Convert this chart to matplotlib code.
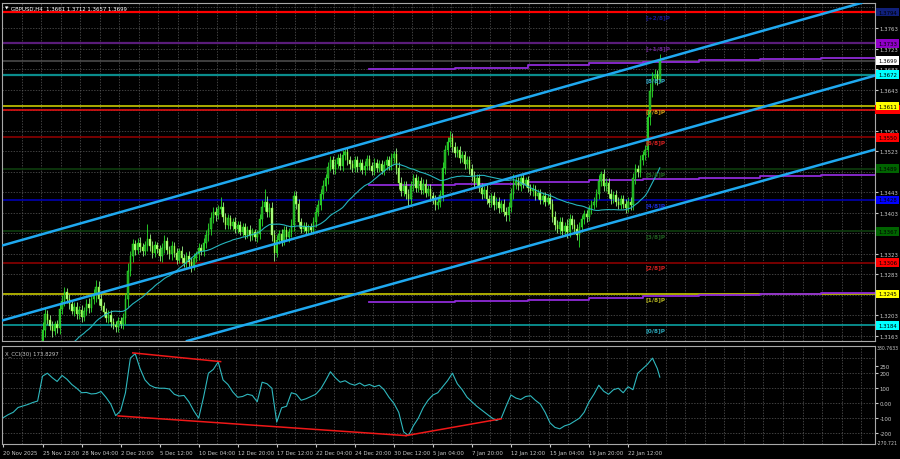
import matplotlib
matplotlib.use("Agg")
import matplotlib.pyplot as plt
import matplotlib.transforms as mtransforms
from matplotlib.patches import Rectangle
import numpy as np
import pandas as pd

plt.rcParams['font.family'] = ['DejaVu Sans']

# ---- data ----
symbol = "GBPUSD,H4"
last_ohlc = "1.3661 1.3712 1.3657 1.3699"
first_open = 1.3070

closes = [
    1.3078, 1.3065, 1.3088, 1.3104, 1.3092, 1.3112, 1.3098, 1.3084, 1.3096, 1.3110,
    1.3124, 1.3108, 1.3120, 1.3132, 1.3124, 1.3140, 1.3175, 1.3205, 1.3195, 1.3182,
    1.3172, 1.3186, 1.3178, 1.3215, 1.3232, 1.3248, 1.3236, 1.3225, 1.3212, 1.3220,
    1.3205, 1.3214, 1.3200, 1.3212, 1.3226, 1.3218, 1.3235, 1.3244, 1.3258, 1.3236,
    1.3222, 1.3210, 1.3198, 1.3204, 1.3190, 1.3185, 1.3180, 1.3192, 1.3186, 1.3198,
    1.3235, 1.3290, 1.3318, 1.3342, 1.3330, 1.3345, 1.3336, 1.3328, 1.3340, 1.3352,
    1.3338, 1.3325, 1.3340, 1.3332, 1.3318, 1.3335, 1.3348, 1.3330, 1.3322, 1.3338,
    1.3325, 1.3312, 1.3328, 1.3315, 1.3305, 1.3318, 1.3308, 1.3300, 1.3315, 1.3322,
    1.3335, 1.3328, 1.3345, 1.3360, 1.3372, 1.3392, 1.3405, 1.3398, 1.3410, 1.3415,
    1.3395, 1.3380, 1.3392, 1.3378, 1.3385, 1.3372, 1.3380, 1.3366, 1.3375, 1.3360,
    1.3370, 1.3358, 1.3365, 1.3355, 1.3362, 1.3390, 1.3415, 1.3425, 1.3405, 1.3412,
    1.3360, 1.3325, 1.3350, 1.3362, 1.3348, 1.3370, 1.3356, 1.3365, 1.3380, 1.3435,
    1.3420, 1.3385, 1.3372, 1.3378, 1.3368, 1.3375, 1.3370, 1.3385, 1.3405, 1.3418,
    1.3440, 1.3455, 1.3470, 1.3492, 1.3505, 1.3488, 1.3498, 1.3510, 1.3495, 1.3515,
    1.3522, 1.3505, 1.3498, 1.3490, 1.3505, 1.3492, 1.3500, 1.3486, 1.3495, 1.3508,
    1.3494, 1.3485, 1.3500, 1.3490, 1.3498, 1.3485, 1.3496, 1.3505, 1.3495, 1.3510,
    1.3518, 1.3490, 1.3462, 1.3445, 1.3455, 1.3440, 1.3430, 1.3455, 1.3470, 1.3452,
    1.3465, 1.3448, 1.3460, 1.3442, 1.3450, 1.3435, 1.3428, 1.3418, 1.3425, 1.3438,
    1.3490, 1.3525, 1.3540, 1.3548, 1.3532, 1.3520, 1.3525, 1.3510, 1.3515, 1.3498,
    1.3505, 1.3488, 1.3475, 1.3462, 1.3470, 1.3452, 1.3440, 1.3448, 1.3430, 1.3422,
    1.3435, 1.3418, 1.3425, 1.3412, 1.3420, 1.3405, 1.3398, 1.3415, 1.3440, 1.3458,
    1.3465, 1.3455, 1.3470, 1.3460, 1.3466, 1.3452, 1.3445, 1.3450, 1.3436, 1.3442,
    1.3428, 1.3436, 1.3425, 1.3432, 1.3420, 1.3395, 1.3380, 1.3372, 1.3385, 1.3368,
    1.3378, 1.3365, 1.3390, 1.3380, 1.3372, 1.3360, 1.3375, 1.3390, 1.3400, 1.3395,
    1.3410, 1.3418, 1.3425, 1.3440, 1.3465, 1.3478, 1.3455, 1.3462, 1.3440, 1.3430,
    1.3438, 1.3425, 1.3418, 1.3430, 1.3420, 1.3412, 1.3425, 1.3418, 1.3470, 1.3488,
    1.3482, 1.3505, 1.3515, 1.3525, 1.3590, 1.3640, 1.3665, 1.3672, 1.3661, 1.3699,
]

# wick length per bar, pips
wicks = [
    8, 10, 7, 9, 12, 8, 6, 10, 9, 7, 11, 8, 9, 10, 7, 12, 15, 14, 9, 8, 10, 7, 9, 12, 10, 11, 8, 9, 7, 10,
    9, 8, 10, 7, 9, 11, 8, 10, 14, 12, 9, 8, 7, 9, 10, 8, 7, 9, 8, 10, 12, 15, 11, 10, 9, 8, 10, 9, 8, 11,
    9, 10, 8, 7, 9, 10, 11, 8, 9, 10, 8, 9, 7, 10, 8, 9, 10, 8, 9, 7, 10, 8, 9, 10, 11, 12, 9, 10, 8, 9,
    10, 8, 9, 7, 8, 9, 8, 7, 9, 8, 7, 9, 8, 7, 8, 10, 12, 9, 11, 10, 12, 10, 9, 8, 9, 8, 7, 9, 10, 12,
    10, 9, 8, 7, 8, 7, 8, 9, 10, 9, 10, 11, 9, 10, 8, 9, 10, 8, 9, 10, 9, 8, 9, 7, 8, 9, 7, 8, 9, 8,
    7, 8, 9, 7, 8, 7, 8, 9, 8, 9, 10, 11, 12, 10, 9, 10, 9, 10, 9, 8, 9, 8, 9, 8, 7, 9, 8, 9, 8, 10,
    12, 11, 10, 9, 10, 9, 8, 9, 8, 9, 8, 9, 10, 9, 8, 9, 10, 8, 9, 8, 7, 9, 8, 9, 8, 9, 9, 10, 11, 10,
    9, 8, 9, 8, 7, 9, 8, 9, 8, 7, 8, 7, 8, 7, 9, 10, 11, 9, 10, 9, 8, 12, 10, 9, 10, 9, 10, 9, 8, 9,
    8, 9, 8, 10, 11, 9, 10, 9, 8, 9, 8, 9, 8, 7, 8, 9, 8, 9, 10, 11, 9, 10, 9, 10, 14, 15, 12, 11, 10, 6,
]
high_fix = {59: 1.3381, 89: 1.3434, 107: 1.3449, 119: 1.3445, 140: 1.3527, 160: 1.3523,
            183: 1.3562, 209: 1.3479, 245: 1.3485, 269: 1.3712}
low_fix = {46: 1.3170, 77: 1.3288, 111: 1.3310, 166: 1.3414, 206: 1.3387, 236: 1.3336, 269: 1.3657}

cci_bars = list(range(0, 270, 2)) + [269]
cci_vals = [
    -95, -75, -60, -28, -18, -8, 5, 15, 180, 200,
    170, 145, 185, 160, 125, 100, 70, 72, 62, 65,
    78, 40, -6, -82, -50, 70, 300, 330, 230, 155,
    120, 105, 100, 100, 95, 60, 48, 52, 10, -50,
    -99, 40, 200, 225, 275, 155, 125, 75, 40, 45,
    60, 52, 10, 140, 130, 100, -125, -30, -20, 70,
    60, 20, 30, 45, 60, 95, 150, 210, 170, 140,
    150, 130, 120, 135, 115, 125, 110, 120, 90, 40,
    0, -60, -190, -215, -150, -100, -30, 20, 55, 70,
    110, 150, 200, 130, 90, 40, 10, -20, -45, -70,
    -95, -115, -100, -20, 55, 35, 25, 45, 50, 20,
    -5, -60, -130, -160, -170, -150, -140, -120, -100, -60,
    10, 60, 120, 80, 60, 90, 100, 70, 110, 90,
    200, 230, 260, 300, 230, 173.83,
]
cci_last = "173.8297"

murray_prices = [1.3794, 1.3733, 1.3672, 1.3611, 1.3550, 1.3489, 1.3428, 1.3367, 1.3306, 1.3245, 1.3184]
murray_names = ["[+2/8]P", "[+1/8]P", "[8/8]P", "[7/8]P", "[6/8]P", "[5/8]P",
                "[4/8]P", "[3/8]P", "[2/8]P", "[1/8]P", "[0/8]P"]
murray_line = ["#FF0000", "#5A1C7A", "#0A8C8C", "#C8C800", "#8B0000", "#0E3D0E",
               "#0000B0", "#0E3D0E", "#8B0000", "#C8C800", "#0AA0A0"]
murray_label = ["#1A1A8C", "#6A2390", "#35A8C8", "#D4A017", "#D02020", "#1F5F1F",
                "#1A2BD0", "#1F5F1F", "#D02020", "#B5B520", "#2AA6B8"]
murray_box = ["#10207A", "#9000C8", "#00FFFF", "#FFFF00", "#FF0000", "#006400",
              "#0000FF", "#006400", "#FF0000", "#FFFF00", "#00FFFF"]

red_extra = 1.3604
bid = 1.3699

chan_upper = [(0, 1.3340), (351, 1.3811)]
chan_mid = [(0, 1.3194), (357, 1.3670)]
chan_low = [(75, 1.3153), (357, 1.3526)]

purple_bars = [150, 185, 215, 240, 262, 285, 310, 335, 358]
purple_top = [1.3683, 1.3686, 1.3690, 1.3694, 1.3697, 1.3700, 1.3703, 1.3705, 1.3707]
purple_mid = [1.3457, 1.3460, 1.3463, 1.3466, 1.3469, 1.3471, 1.3474, 1.3476, 1.3477]
purple_bot = [1.3229, 1.3231, 1.3234, 1.3237, 1.3240, 1.3242, 1.3244, 1.3246, 1.3247]

div_lines = [((53, 335), (89, 277)), ((47, -84), (165, -215)), ((165, -215), (204, -103))]

price_ticks = [1.3163 + 0.004 * k for k in range(17)]
cci_grid = [300, 200, 100, 0, -100, -200]
cci_labels = [(250, "250"), (200, "200"), (100, "100"), (0, "0.00"),
              (-100, "-100"), (-200, "-200")]
cci_top, cci_bottom = 380.7633, -270.721

# ---- build ----
c = np.array(closes)
n = len(c)
x = np.arange(n)
o = np.r_[first_open, c[:-1]]
w = np.array(wicks) * 1e-4
hi = np.maximum(o, c) + w
lo = np.minimum(o, c) - w
for k, v in high_fix.items():
    hi[k] = v
for k, v in low_fix.items():
    lo[k] = v
ma = pd.Series(c).rolling(30).mean()

t = pd.date_range("2025-11-20 20:00", "2026-02-15", freq="4h")
t = t[(t.dayofweek < 5) & ~t.normalize().isin(pd.to_datetime(["2025-12-25", "2026-01-01"]))]
times = t[:n]

BG = "#000000"
FG = "#C8C8C8"
GRID = "#5A5A5A"
FS = 3.9

fig = plt.figure(figsize=(9, 4.6), dpi=100, facecolor=BG)
ax = fig.add_axes([2 / 900, 118 / 460, 873 / 900, 338 / 460], facecolor=BG)
ax2 = fig.add_axes([2 / 900, 15 / 460, 873 / 900, 98 / 460], facecolor=BG)

xlim = (-0.6, 357.2)
for a in (ax, ax2):
    a.set_xlim(*xlim)
    for s in a.spines.values():
        s.set_color("#A8A8A8")
        s.set_linewidth(0.8)
    for gx in range(8, 358, 8):
        a.axvline(gx - 0.5, color=GRID, ls=(0, (2, 2)), lw=0.5, zorder=0)

ax.set_ylim(1.31533, 1.38117)
for p in price_ticks:
    ax.axhline(p, color=GRID, ls=(0, (2, 2)), lw=0.5, zorder=0)

# Murray levels
for p, col in zip(murray_prices, murray_line):
    ax.axhline(p, color=col, lw=1.6 if p > 1.366 else 1.2, zorder=1)
ax.axhline(red_extra, color="#E01010", lw=1.2, zorder=1)
ax.axhline(bid, color="#4A4A4A", lw=1.2, zorder=1)

# purple step levels
for arr in (purple_top, purple_mid, purple_bot):
    ax.plot(purple_bars, arr, color="#8E2BD8", lw=1.3, drawstyle="steps-post", zorder=2)

# candles
up = c >= o
ax.vlines(x[up], lo[up], hi[up], color="#2BE02B", lw=0.6, zorder=3)
ax.vlines(x[~up], lo[~up], hi[~up], color="#9CF08C", lw=0.6, zorder=3)
ax.bar(x[up], (c - o)[up], bottom=o[up], width=0.62, color="#1FA01F",
       edgecolor="#33FF33", lw=0.3, zorder=4)
ax.bar(x[~up], (c - o)[~up], bottom=o[~up], width=0.62, color="#B4FFA0",
       edgecolor="#7CFC00", lw=0.3, zorder=4)

ax.plot(x, ma, color="#26B5BE", lw=0.8, zorder=5)

# regression channel
for (p1, p2) in (chan_upper, chan_mid, chan_low):
    ax.axline(p1, p2, color="#1FA9F0", lw=1.8, zorder=6)

# Murray labels
lab_x = 263
dy = 4.5 * (1.38117 - 1.31533) / 338
for p, name, col in zip(murray_prices, murray_names, murray_label):
    ax.text(lab_x, p - dy, name, color=col, fontsize=4.2, fontweight="bold",
            ha="left", va="center", zorder=7)

# right price scale: plain ticks hidden where a level box sits on top
box_prices = murray_prices + [red_extra, bid]
shown_ticks = [p for p in price_ticks if min(abs(p - b) for b in box_prices) > 0.00095]
ax.set_xticks([])
ax.yaxis.tick_right()
ax.set_yticks(shown_ticks)
ax.set_yticklabels([f"{p:.4f}" for p in shown_ticks])
ax.tick_params(axis="y", colors=FG, labelsize=FS, length=2, pad=1.5)
tr = mtransforms.blended_transform_factory(ax.transAxes, ax.transData)
hpx = (1.38117 - 1.31533) / 338
# red extra level: box mostly hidden under the yellow one, only a strip shows
ax.add_patch(Rectangle((1.0, red_extra - 4.5 * hpx), 0.03, 9 * hpx, transform=tr,
                       fc="#FF0000", ec="none", clip_on=False, zorder=9))
for p, bc in list(zip(murray_prices, murray_box)) + [(bid, "#FFFFFF")]:
    ax.text(1.0035, p, f"{p:.4f}", transform=tr, ha="left", va="center", fontsize=FS,
            color="#000000", clip_on=False, zorder=10,
            bbox=dict(boxstyle="square,pad=0.35", fc=bc, ec="none"))

# CCI panel
ax2.set_ylim(cci_bottom, cci_top)
for g in cci_grid:
    ax2.axhline(g, color=GRID, ls=(0, (2, 2)), lw=0.5, zorder=0)
ax2.plot(cci_bars, cci_vals, color="#2FB8BE", lw=0.8, zorder=3)
for (a, b) in div_lines:
    ax2.plot([a[0], b[0]], [a[1], b[1]], color="#F01818", lw=1.1, zorder=4)
ax2.text(0.004, 0.93, f"X_CCI(30) {cci_last}", transform=ax2.transAxes, color=FG,
         fontsize=FS, ha="left", va="center")
ax2.yaxis.tick_right()
ax2.set_yticks([v for v, _ in cci_labels])
ax2.set_yticklabels([s for _, s in cci_labels])
ax2.tick_params(axis="y", colors=FG, labelsize=FS, length=2, pad=1.5)
tr2 = mtransforms.blended_transform_factory(ax2.transAxes, ax2.transData)
ax2.text(1.002, cci_top - 12, f"{cci_top:.4f}", transform=tr2, color=FG, fontsize=3.3,
         ha="left", va="center", clip_on=False)
ax2.text(1.002, cci_bottom + 8, f"{cci_bottom:.3f}", transform=tr2, color=FG, fontsize=3.3,
         ha="left", va="center", clip_on=False)

label_bars = list(range(0, n, 16))
labels = []
for i in label_bars:
    ts = times[i]
    if i == 0:
        labels.append(f"{ts.day} {ts.strftime('%b %Y')}")
    else:
        labels.append(f"{ts.day} {ts.strftime('%b %H:%M')}")
ax2.set_xticks(label_bars)
ax2.set_xticklabels(labels, ha="left")
ax2.tick_params(axis="x", colors=FG, labelsize=FS, length=2.5, pad=1.5)

fig.text(5 / 900, 1 - 9 / 460, "▼", color="#FFFFFF", fontsize=3.2, va="center")
fig.text(11 / 900, 1 - 9 / 460, f"{symbol}  {last_ohlc}", color="#FFFFFF",
         fontsize=FS, va="center")

fig.savefig("out.png", dpi=100, facecolor=BG)
